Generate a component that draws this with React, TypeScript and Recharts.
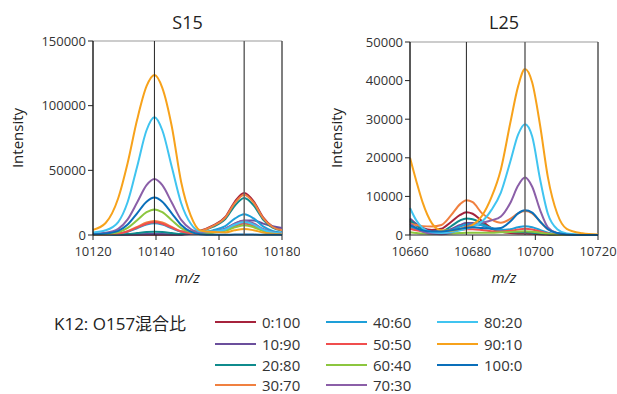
import { Line, LineChart, ReferenceLine, XAxis, YAxis } from "recharts";

const RATIOS = ["0:100", "10:90", "20:80", "30:70", "40:60", "50:50", "60:40", "70:30", "80:20", "90:10", "100:0"];
const COLORS = ["#a6233c", "#6b4f9c", "#0f8b8d", "#f08040", "#1e9fd8", "#f04e4e", "#8cc63f", "#8b5fa8", "#40c4f0", "#f7a21b", "#0a6fba"];

// S15 (m/z 10120-10180)
const S15_MZ = [10120, 10124, 10128, 10131, 10134, 10137, 10139.5, 10142, 10145, 10148, 10151, 10154, 10158, 10162, 10165, 10168, 10171, 10174, 10177, 10180];
const S15_0_100 = [100, 100, 100, 100, 100, 100, 100, 100, 100, 200, 2300, 3300, 7200, 14000, 25700, 32500, 26000, 13700, 6500, 3900];
const S15_10_90 = [20, 30, 90, 220, 460, 710, 800, 710, 460, 220, 870, 1170, 2500, 4900, 8800, 11300, 11300, 8800, 6800, 5500];
const S15_20_80 = [60, 100, 290, 730, 1510, 2310, 2600, 2310, 1510, 700, 2240, 2910, 6300, 12300, 22600, 28600, 22900, 12000, 5700, 3400];
const S15_30_70 = [240, 430, 1190, 3020, 6260, 9610, 10800, 9610, 6260, 2920, 3160, 3340, 6920, 13400, 24600, 31200, 25000, 13100, 6200, 3700];
const S15_40_60 = [200, 360, 990, 2520, 5220, 8010, 9000, 8010, 5220, 2430, 1930, 1780, 3570, 6880, 12600, 16000, 12800, 6700, 3200, 1900];
const S15_50_50 = [220, 390, 1080, 2740, 5680, 8720, 9800, 8720, 5680, 2650, 1500, 1080, 1990, 3780, 6950, 8800, 7040, 3700, 1760, 1060];
const S15_60_40 = [440, 790, 2180, 5540, 11480, 17620, 19800, 17620, 11480, 5350, 2310, 1150, 1750, 3230, 5930, 7500, 6000, 3150, 1500, 900];
const S15_70_30 = [950, 1730, 4760, 12120, 25110, 38540, 43300, 38540, 25110, 11690, 4670, 1980, 2660, 4770, 8770, 11100, 8880, 4660, 2220, 1330];
const S15_80_20 = [2000, 3640, 10010, 25480, 52780, 80990, 91000, 80990, 52780, 24570, 8890, 2820, 2660, 4300, 7900, 10000, 8000, 4200, 2000, 1200];
const S15_90_10 = [3960, 9280, 28450, 55670, 89060, 115040, 123700, 113800, 84120, 40820, 15170, 3550, 2250, 1980, 3630, 4600, 3680, 1930, 920, 550];
const S15_100_0 = [640, 1160, 3180, 8090, 16760, 25720, 28900, 25720, 16760, 7800, 2600, 600, 200, 200, 300, 300, 300, 200, 100, 100];

// L25 (m/z 10660-10720)
const L25_MZ = [10660, 10662, 10664, 10667, 10670, 10673, 10676, 10678, 10680, 10683, 10686, 10689, 10692, 10694.5, 10696.7, 10699, 10701.5, 10704, 10707, 10710, 10715, 10720];
const L25_0_100 = [3500, 2600, 1800, 1300, 1600, 3300, 5200, 5900, 5500, 3600, 1800, 900, 500, 400, 400, 300, 200, 100, 0, 0, 0, 0];
const L25_10_90 = [4300, 2900, 1700, 900, 800, 1500, 2600, 3100, 3100, 2500, 1600, 1000, 800, 800, 800, 700, 500, 200, 50, 0, 0, 0];
const L25_20_80 = [3800, 2500, 1500, 800, 900, 2200, 3800, 4300, 4100, 3000, 1700, 1000, 800, 700, 700, 600, 400, 200, 50, 0, 0, 0];
const L25_30_70 = [3000, 2600, 2300, 2200, 2600, 5000, 8000, 9000, 8500, 5600, 4000, 3200, 4200, 5600, 6200, 5600, 3500, 1500, 500, 150, 0, 0];
const L25_40_60 = [2000, 1500, 1000, 600, 600, 1200, 2200, 2700, 2800, 2500, 1800, 1300, 1500, 2000, 2250, 2000, 1300, 600, 200, 50, 0, 0];
const L25_50_50 = [1600, 1200, 900, 600, 600, 900, 1300, 1500, 1500, 1300, 1000, 900, 1100, 1400, 1600, 1400, 900, 400, 100, 0, 0, 0];
const L25_60_40 = [700, 500, 400, 300, 300, 400, 500, 600, 600, 600, 600, 700, 800, 900, 950, 850, 600, 300, 100, 0, 0, 0];
const L25_70_30 = [3000, 1800, 900, 300, 200, 600, 1500, 2200, 2700, 3200, 3800, 4800, 8300, 12800, 14900, 12500, 6500, 2000, 500, 100, 0, 0];
const L25_80_20 = [7000, 3800, 1800, 700, 500, 700, 1200, 1600, 2200, 3500, 6500, 11000, 19000, 26000, 28700, 25500, 14500, 5500, 1500, 400, 100, 0];
const L25_90_10 = [20000, 14000, 8500, 3000, 1200, 1100, 1600, 2000, 2600, 5000, 9800, 17000, 29000, 38500, 43000, 39500, 28500, 15000, 5500, 1600, 450, 100];
const L25_100_0 = [2500, 1800, 1200, 900, 900, 1200, 1600, 1900, 2000, 1800, 1600, 1800, 3500, 5600, 6400, 5800, 3500, 1500, 500, 150, 0, 0];

const S15_SERIES = [S15_0_100, S15_10_90, S15_20_80, S15_30_70, S15_40_60, S15_50_50, S15_60_40, S15_70_30, S15_80_20, S15_90_10, S15_100_0];
const L25_SERIES = [L25_0_100, L25_10_90, L25_20_80, L25_30_70, L25_40_60, L25_50_50, L25_60_40, L25_70_30, L25_80_20, L25_90_10, L25_100_0];

const S15_X_TICKS = [10120, 10140, 10160, 10180];
const S15_Y_TICKS = [0, 50000, 100000, 150000];
const L25_X_TICKS = [10660, 10680, 10700, 10720];
const L25_Y_TICKS = [0, 10000, 20000, 30000, 40000, 50000];

const FONT = '"Open Sans", "Noto Sans CJK JP", sans-serif';
const TEXT = "#333";

type SpectrumProps = {
  title: string;
  mz: number[];
  series: number[][];
  xTicks: number[];
  yTicks: number[];
  markers: number[];
  left: number;
  width: number;
  yAxisWidth: number;
  top: number;
  right: number;
  labelX: number;
};

function Spectrum({ title, mz, series, xTicks, yTicks, markers, left, width, yAxisWidth, top, right, labelX }: SpectrumProps) {
  const rows = mz.map((m, i) => {
    const row: Record<string, number> = { mz: m };
    series.forEach((s, k) => {
      row["r" + k] = s[i];
    });
    return row;
  });
  const xMin = xTicks[0];
  const xMax = xTicks[xTicks.length - 1];
  const yMax = yTicks[yTicks.length - 1];
  const plotCenter = left + yAxisWidth + (width - yAxisWidth - right) / 2;

  return (
    <>
      <div
        style={{
          position: "absolute",
          left: plotCenter - 50,
          width: 100,
          top: 10,
          textAlign: "center",
          fontSize: 18,
          color: "#222",
          lineHeight: "24px",
        }}
      >
        {title}
      </div>
      <div
        style={{
          position: "absolute",
          left: labelX - 50,
          top: 138 - 11,
          width: 100,
          textAlign: "center",
          fontSize: 15,
          color: "#222",
          lineHeight: "22px",
          transform: "rotate(-90deg)",
        }}
      >
        Intensity
      </div>
      <div
        style={{
          position: "absolute",
          left: plotCenter - 30,
          width: 60,
          top: 266,
          textAlign: "center",
          fontSize: 15,
          fontStyle: "italic",
          color: "#222",
          lineHeight: "22px",
        }}
      >
        m/z
      </div>
      <div style={{ position: "absolute", left, top: 0 }}>
        <LineChart width={width} height={290} data={rows} margin={{ top, right, bottom: 25, left: 0 }}>
          <XAxis
            dataKey="mz"
            type="number"
            domain={[xMin, xMax]}
            ticks={xTicks}
            interval={0}
            height={30}
            tickSize={5}
            tickMargin={7}
            axisLine={{ stroke: "#222" }}
            tickLine={{ stroke: "#222" }}
            tick={{ fontSize: 13, fill: TEXT }}
          />
          <YAxis
            type="number"
            domain={[0, yMax]}
            ticks={yTicks}
            interval={0}
            width={yAxisWidth}
            tickSize={5}
            axisLine={{ stroke: "#222", strokeWidth: 1.5 }}
            tickLine={{ stroke: "#222" }}
            tick={{ fontSize: 13, fill: TEXT }}
          />
          <ReferenceLine y={yMax} stroke="#999" />
          <ReferenceLine x={xMax} stroke="#555" strokeWidth={1.5} />
          {RATIOS.map((r, k) => (
            <Line
              key={r}
              dataKey={"r" + k}
              name={r}
              type="monotone"
              stroke={COLORS[k]}
              strokeWidth={2}
              dot={false}
              isAnimationActive={false}
            />
          ))}
          <ReferenceLine x={markers[0]} stroke="#222" />
          <ReferenceLine x={markers[1]} stroke="#666" strokeWidth={1.5} />
        </LineChart>
      </div>
    </>
  );
}

const LEGEND_COL_X = [215, 326, 437];
const LEGEND_ROW_Y = [322, 344, 365, 385];

export default function App() {
  return (
    <div
      style={{
        position: "absolute",
        left: 0,
        top: 0,
        width: 617,
        height: 394,
        background: "#fff",
        fontFamily: FONT,
        overflow: "hidden",
      }}
    >
      <Spectrum
        title="S15"
        mz={S15_MZ}
        series={S15_SERIES}
        xTicks={S15_X_TICKS}
        yTicks={S15_Y_TICKS}
        markers={[10139.5, 10168]}
        left={0}
        width={300}
        yAxisWidth={93}
        top={41}
        right={18}
        labelX={17}
      />
      <Spectrum
        title="L25"
        mz={L25_MZ}
        series={L25_SERIES}
        xTicks={L25_X_TICKS}
        yTicks={L25_Y_TICKS}
        markers={[10678, 10696.7]}
        left={300}
        width={317}
        yAxisWidth={110}
        top={42}
        right={19}
        labelX={336}
      />
      <div
        style={{
          position: "absolute",
          left: 54,
          top: 312,
          fontSize: 17,
          color: "#222",
          lineHeight: "24px",
          whiteSpace: "nowrap",
        }}
      >
        K12: O157混合比
      </div>
      {RATIOS.map((r, k) => {
        const x = LEGEND_COL_X[Math.floor(k / 4)];
        const y = LEGEND_ROW_Y[k % 4];
        return (
          <div key={r} style={{ position: "absolute", left: x, top: y - 8, height: 16, display: "flex", alignItems: "center" }}>
            <div style={{ width: 41, height: 2.5, background: COLORS[k] }} />
            <span style={{ marginLeft: 6, fontSize: 15, color: TEXT, lineHeight: "16px" }}>{r}</span>
          </div>
        );
      })}
    </div>
  );
}
